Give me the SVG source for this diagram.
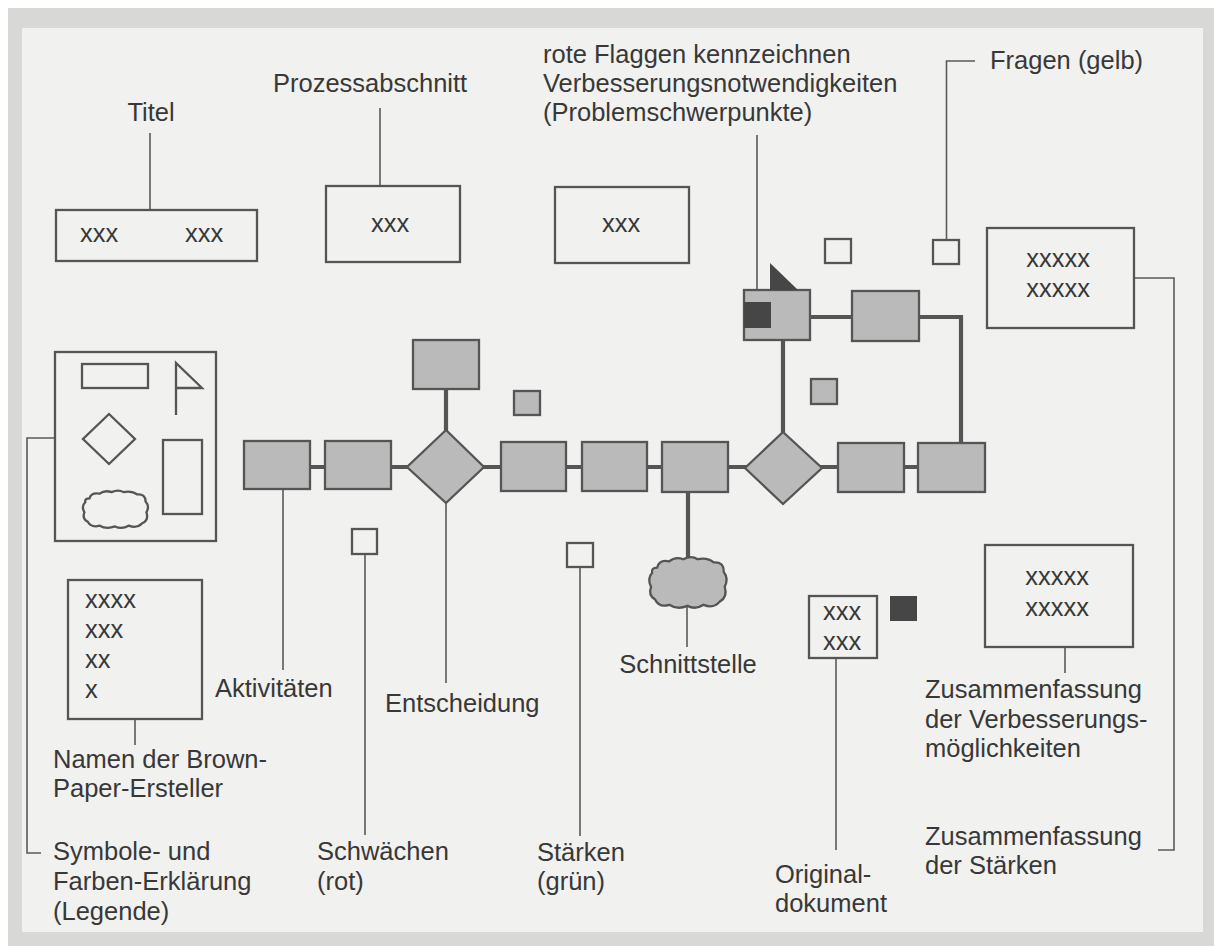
<svg xmlns="http://www.w3.org/2000/svg" width="1214" height="946" viewBox="0 0 1214 946">
  <defs>
    <style>
      text { font-family: "Liberation Sans", Arial, sans-serif; font-size: 25.5px; fill: #383838; }
      .mid { text-anchor: middle; }
      .frame { fill: #d8d8d6; }
      .panel { fill: #f1f1ef; }
      .box { fill: none; stroke: #555; stroke-width: 2.3; }
      .act { fill: #bababa; stroke: #555; stroke-width: 2.3; }
      .dark { fill: #464646; }
      .lead { fill: none; stroke: #5a5a5a; stroke-width: 1.6; }
      .flow { fill: none; stroke: #555; stroke-width: 4.2; }
    </style>
    <!-- bumpy cloud outline in a 80 x 50 unit box -->
    <path id="cloud" vector-effect="non-scaling-stroke" d="M10,12 Q12,4 22,6 Q28,1 36,4 Q44,0 50,4 Q60,2 66,7 Q76,6 76,16 Q81,22 77,30 Q80,40 72,44 Q66,51 56,47 Q48,52 40,48 Q30,52 22,47 Q12,50 8,42 Q1,38 4,30 Q0,22 5,17 Q4,12 10,12 Z"/>
  </defs>

  <!-- paper sheet -->
  <rect x="0" y="0" width="1214" height="946" fill="#ffffff"/>
  <rect class="frame" x="8" y="8" width="1206" height="938"/>
  <rect class="panel" x="22" y="28" width="1181" height="904"/>

  <!-- connectors: process flow and label leaders -->
  <g id="connectors">
    <path class="flow" d="M277 467 H951"/>
    <path class="flow" d="M446 364 V467"/>
    <path class="flow" d="M783 315 V468"/>
    <path class="flow" d="M777 317 H961 V467"/>
    <path class="flow" d="M688 467 V580"/>

    <path class="lead" d="M150 133 V210"/>
    <path class="lead" d="M380 108 V186"/>
    <path class="lead" d="M757 135 V302"/>
    <path class="lead" d="M975 61 H946.5 V240"/>
    <path class="lead" d="M1134 278 H1174 V850 H1158"/>
    <path class="lead" d="M55 438 H27 V853 H41"/>
    <path class="lead" d="M135 719 V745"/>
    <path class="lead" d="M283 489 V670"/>
    <path class="lead" d="M446 503 V683"/>
    <path class="lead" d="M365 554 V835"/>
    <path class="lead" d="M580 567 V836"/>
    <path class="lead" d="M687 607 V647"/>
    <path class="lead" d="M836 658 V850"/>
    <path class="lead" d="M1065 647 V673"/>
  </g>

  <!-- title card -->
  <g id="title">
    <text class="mid" x="151" y="121">Titel</text>
    <rect class="box" x="56" y="210" width="201" height="51"/>
    <text x="80" y="242">xxx</text>
    <text x="185" y="242">xxx</text>
  </g>

  <!-- process section cards -->
  <g id="section-1">
    <text x="273" y="92">Prozessabschnitt</text>
    <rect class="box" x="326" y="186" width="134" height="76"/>
    <text class="mid" x="390" y="232">xxx</text>
  </g>
  <g id="section-2">
    <rect class="box" x="555" y="187" width="134" height="76"/>
    <text class="mid" x="621" y="232">xxx</text>
  </g>

  <!-- red flags note -->
  <g id="flag-note">
    <text x="543" y="63">rote Flaggen kennzeichnen</text>
    <text x="543" y="92">Verbesserungsnotwendigkeiten</text>
    <text x="543" y="121">(Problemschwerpunkte)</text>
  </g>

  <!-- questions (yellow) -->
  <g id="questions">
    <text x="990" y="69">Fragen (gelb)</text>
    <rect class="box" x="825" y="239" width="26" height="24"/>
    <rect class="box" x="933" y="240" width="26" height="24"/>
  </g>

  <!-- summary of strengths -->
  <g id="summary-strengths">
    <rect class="box" x="987" y="228" width="147" height="100"/>
    <text class="mid" x="1058" y="267">xxxxx</text>
    <text class="mid" x="1058" y="297">xxxxx</text>
    <text x="925" y="845">Zusammenfassung</text>
    <text x="925" y="874">der Stärken</text>
  </g>

  <!-- summary of improvement options -->
  <g id="summary-improvements">
    <rect class="box" x="985" y="545" width="148" height="102"/>
    <text class="mid" x="1057" y="585">xxxxx</text>
    <text class="mid" x="1057" y="616">xxxxx</text>
    <text x="925" y="698">Zusammenfassung</text>
    <text x="925" y="728">der Verbesserungs-</text>
    <text x="925" y="757">möglichkeiten</text>
  </g>

  <!-- legend -->
  <g id="legend">
    <rect class="box" x="55" y="352" width="161" height="189"/>
    <rect class="box" x="82" y="364" width="66" height="24"/>
    <path class="box" d="M176 415 V363 L202 388 H176"/>
    <path class="box" d="M109 414 L135 439 L109 464 L83 439 Z"/>
    <rect class="box" x="163" y="440" width="39" height="74"/>
    <use href="#cloud" class="box" transform="translate(81 489) scale(0.85 0.78)"/>
    <text x="53" y="860">Symbole- und</text>
    <text x="53" y="890">Farben-Erklärung</text>
    <text x="53" y="920">(Legende)</text>
  </g>

  <!-- names of the authors -->
  <g id="authors">
    <rect class="box" x="68" y="580" width="134" height="139"/>
    <text x="85" y="608">xxxx</text>
    <text x="85" y="638">xxx</text>
    <text x="85" y="668">xx</text>
    <text x="85" y="698">x</text>
    <text x="53" y="768">Namen der Brown-</text>
    <text x="53" y="797">Paper-Ersteller</text>
  </g>

  <!-- activities -->
  <g id="activities">
    <rect id="act-1" class="act" x="244" y="441" width="66" height="48"/>
    <rect id="act-2" class="act" x="325" y="441" width="66" height="48"/>
    <rect id="act-3" class="act" x="413" y="340" width="66" height="49"/>
    <rect id="act-4" class="act" x="501" y="442" width="65" height="49"/>
    <rect id="act-5" class="act" x="582" y="442" width="65" height="49"/>
    <rect id="act-6" class="act" x="662" y="442" width="66" height="50"/>
    <rect id="act-7" class="act" x="838" y="443" width="66" height="49"/>
    <rect id="act-8" class="act" x="918" y="443" width="67" height="49"/>
    <rect id="act-9" class="act" x="852" y="291" width="67" height="50"/>
    <text x="215" y="697">Aktivitäten</text>
  </g>

  <!-- flagged activity -->
  <g id="act-flagged">
    <rect class="act" x="744" y="290" width="66" height="50"/>
    <rect class="dark" x="744" y="302" width="27" height="26"/>
    <path class="dark" d="M770 263 L798 290 H770 Z"/>
  </g>

  <!-- decisions -->
  <g id="decision-1">
    <path class="act" d="M446 430 L484 467 L446 503 L407 467 Z"/>
    <text x="385" y="712">Entscheidung</text>
  </g>
  <g id="decision-2">
    <path class="act" d="M783 432 L822 468 L783 504 L745 468 Z"/>
  </g>

  <!-- small note squares -->
  <g id="notes">
    <rect class="act" x="514" y="391" width="26" height="24"/>
    <rect class="act" x="811" y="379" width="26" height="25"/>
    <rect class="dark" x="890" y="596" width="27" height="25"/>
  </g>

  <!-- weaknesses (red) -->
  <g id="weaknesses">
    <rect class="box" x="352" y="529" width="25" height="25"/>
    <text x="317" y="860">Schwächen</text>
    <text x="317" y="890">(rot)</text>
  </g>

  <!-- strengths (green) -->
  <g id="strengths">
    <rect class="box" x="567" y="543" width="26" height="24"/>
    <text x="537" y="861">Stärken</text>
    <text x="537" y="890">(grün)</text>
  </g>

  <!-- interface -->
  <g id="interface">
    <use href="#cloud" class="act" transform="translate(647 555) scale(1.01 1.06)"/>
    <text class="mid" x="688" y="673">Schnittstelle</text>
  </g>

  <!-- original document -->
  <g id="original-doc">
    <rect class="box" x="809" y="596" width="68" height="62"/>
    <text class="mid" x="842" y="620">xxx</text>
    <text class="mid" x="842" y="650">xxx</text>
    <text x="775" y="883">Original-</text>
    <text x="775" y="912">dokument</text>
  </g>
</svg>
